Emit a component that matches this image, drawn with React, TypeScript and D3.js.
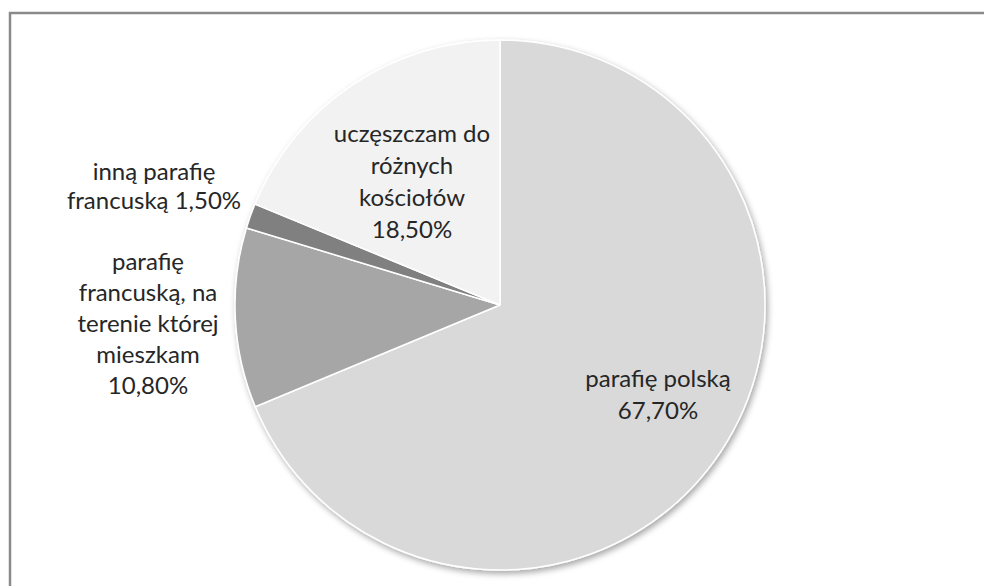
import { useMemo } from 'react';
import * as d3 from 'd3';

const WIDTH = 984;
const HEIGHT = 586;
const CENTER = { x: 500, y: 305 };
const RADIUS = 265;

// Slices, clockwise from 12 o'clock
const categories = [
  'parafię polską',
  'parafię francuską, na terenie której mieszkam',
  'inną parafię francuską',
  'uczęszczam do różnych kościołów',
];
const values = [67.7, 10.8, 1.5, 18.5];
const sliceColors = ['#d9d9d9', '#a6a6a6', '#808080', '#f2f2f2'];

// Label lines as shown in the chart
const labelLines = [
  ['parafię polską', '67,70%'],
  ['parafię', 'francuską, na', 'terenie której', 'mieszkam', '10,80%'],
  ['inną parafię', 'francuską 1,50%'],
  ['uczęszczam do', 'różnych', 'kościołów', '18,50%'],
];

// label block centre, relative to the pie centre
const labelOffsets = [
  { dx: 158, dy: 90, lh: 32 },
  { dx: -352, dy: 19, lh: 31 },
  { dx: -346, dy: -119, lh: 29 },
  { dx: -88, dy: -123, lh: 32 },
];

export default function App() {
  const arcs = useMemo(() => {
    const pie = d3
      .pie<number>()
      .sort(null)
      .value((d) => d);
    return pie(values);
  }, []);

  const arcGen = d3.arc<d3.PieArcDatum<number>>().innerRadius(0).outerRadius(RADIUS);

  return (
    <svg
      width={WIDTH}
      height={HEIGHT}
      viewBox={`0 0 ${WIDTH} ${HEIGHT}`}
      style={{ position: 'absolute', left: 0, top: 0, background: '#fff' }}
      fontFamily="Lato, 'Open Sans', sans-serif"
    >
      <defs>
        <filter id="pieShadow" x="-10%" y="-10%" width="120%" height="120%">
          <feDropShadow dx="2" dy="3" stdDeviation="3" floodColor="#000" floodOpacity="0.35" />
        </filter>
      </defs>

      {/* chart frame */}
      <rect x={10} y={13} width={WIDTH + 20} height={HEIGHT + 20} fill="#fff" stroke="#8a8a8a" strokeWidth={2.5} />

      <g transform={`translate(${CENTER.x},${CENTER.y})`}>
        <g filter="url(#pieShadow)">
          {arcs.map((a, i) => (
            <path
              key={categories[i]}
              d={arcGen(a) ?? ''}
              fill={sliceColors[i]}
              stroke="#fff"
              strokeWidth={1.5}
              strokeLinejoin="round"
            />
          ))}
        </g>

        {labelLines.map((lines, i) => {
          const off = labelOffsets[i];
          const top = off.dy - ((lines.length - 1) * off.lh) / 2;
          return (
            <text key={categories[i]} textAnchor="middle" fontSize={24} fill="#262626">
              {lines.map((ln, j) => (
                <tspan key={j} x={off.dx} y={top + j * off.lh} dy="0.35em">
                  {ln}
                </tspan>
              ))}
            </text>
          );
        })}
      </g>
    </svg>
  );
}
